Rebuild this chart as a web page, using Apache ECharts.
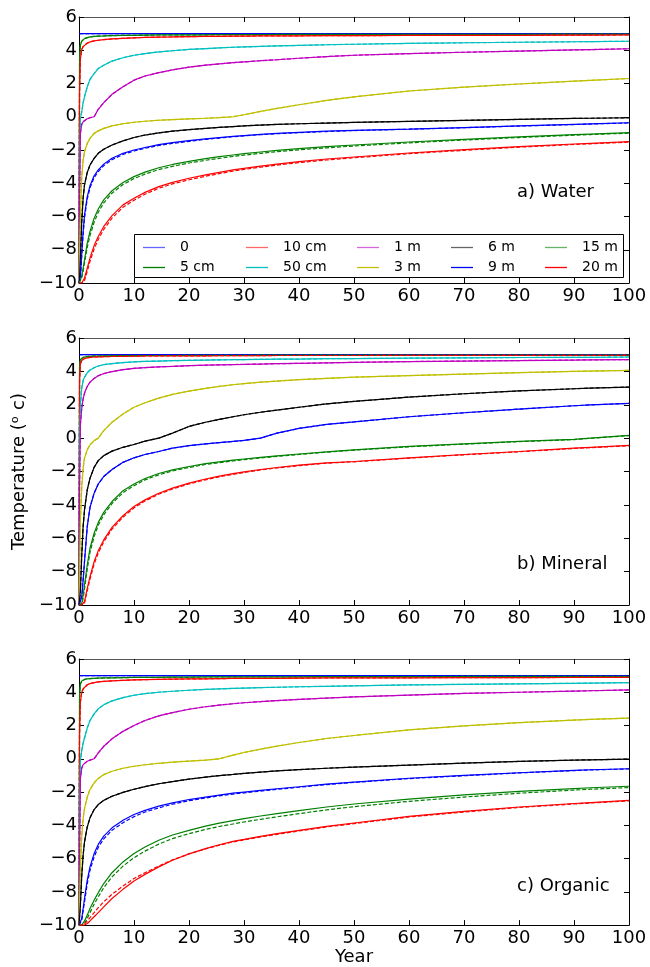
<!DOCTYPE html>
<html>
<head>
<meta charset="utf-8">
<script src="https://cdn.jsdelivr.net/npm/echarts@6/dist/echarts.min.js"></script>
<style>
  html, body { margin: 0; padding: 0; background: #ffffff; }
  #chart { width: 650px; height: 967px; }
</style>
</head>
<body>
<div id="chart"></div>
<script>
// Sample times (years) shared by every temperature profile
const YEARS = [0, 0.1, 0.25, 0.5, 0.75, 1, 1.5, 2, 2.75, 3.5, 4.5, 6, 8, 10, 12, 14.5, 17, 20, 23, 25.5, 28, 30, 33, 36, 40, 45, 50, 60, 70, 80, 90, 93, 100];

const DEPTHS = ['0', '5 cm', '10 cm', '50 cm', '1 m', '3 m', '6 m', '9 m', '15 m', '20 m'];
const COLORS = ['#0000ff', '#008000', '#ff0000', '#00bfbf', '#bf00bf', '#bfbf00', '#000000', '#0000ff', '#008000', '#ff0000'];

const X_TICKS = [0, 10, 20, 30, 40, 50, 60, 70, 80, 90, 100];
const Y_TICKS = [-10, -8, -6, -4, -2, 0, 2, 4, 6];

const PANEL_TITLES = ['a) Water', 'b) Mineral', 'c) Organic'];

// ---- a) Water ----
const water0    = [5, 5, 5, 5, 5, 5, 5, 5, 5, 5, 5, 5, 5, 5, 5, 5, 5, 5, 5, 5, 5, 5, 5, 5, 5, 5, 5, 5, 5, 5, 5, 5, 5];
const water5cm  = [-10, 3.5, 4.3, 4.55, 4.65, 4.7, 4.76, 4.8, 4.83, 4.85, 4.86, 4.88, 4.89, 4.9, 4.91, 4.92, 4.92, 4.93, 4.93, 4.94, 4.94, 4.94, 4.94, 4.95, 4.95, 4.95, 4.95, 4.96, 4.96, 4.96, 4.97, 4.97, 4.97];
const water10cm = [-10, 1.5, 3.5, 4.05, 4.22, 4.32, 4.43, 4.5, 4.56, 4.6, 4.64, 4.68, 4.72, 4.75, 4.77, 4.79, 4.8, 4.82, 4.83, 4.84, 4.85, 4.85, 4.86, 4.86, 4.87, 4.88, 4.88, 4.89, 4.9, 4.9, 4.91, 4.91, 4.92];
const water50cm = [-10, -3, -0.1, 0.3, 0.85, 1.2, 1.8, 2.25, 2.6, 2.9, 3.1, 3.35, 3.55, 3.7, 3.8, 3.9, 3.97, 4.05, 4.1, 4.14, 4.18, 4.2, 4.23, 4.26, 4.29, 4.33, 4.36, 4.41, 4.45, 4.48, 4.51, 4.52, 4.54];
const water1m   = [-10, -5, -1.0, -0.45, -0.3, -0.2, -0.12, -0.06, 0.0, 0.45, 0.85, 1.35, 1.8, 2.2, 2.45, 2.65, 2.82, 2.98, 3.1, 3.18, 3.25, 3.3, 3.37, 3.43, 3.52, 3.62, 3.7, 3.8, 3.88, 3.95, 4.02, 4.04, 4.09];
const water3m   = [-10, -8, -6, -3.6, -2.6, -2.1, -1.6, -1.3, -1.0, -0.85, -0.7, -0.55, -0.42, -0.33, -0.27, -0.21, -0.17, -0.13, -0.09, -0.05, 0.0, 0.12, 0.32, 0.5, 0.72, 0.98, 1.2, 1.55, 1.78, 1.97, 2.14, 2.19, 2.3];
const water6m   = [-10, -9.8, -8.5, -6.3, -4.9, -4.1, -3.35, -2.9, -2.5, -2.2, -1.95, -1.7, -1.45, -1.25, -1.1, -0.97, -0.87, -0.78, -0.7, -0.64, -0.59, -0.55, -0.5, -0.46, -0.42, -0.38, -0.34, -0.28, -0.22, -0.16, -0.1, -0.09, -0.06];
const water9m   = [-10, -10, -9.6, -8.2, -6.9, -5.9, -4.8, -4.15, -3.55, -3.2, -2.85, -2.5, -2.2, -2.0, -1.85, -1.68, -1.56, -1.44, -1.33, -1.25, -1.18, -1.13, -1.06, -1.0, -0.94, -0.87, -0.82, -0.74, -0.65, -0.55, -0.46, -0.43, -0.36];
const water15m  = [-10, -10, -10, -9.6, -9.1, -8.6, -7.6, -6.9, -6.1, -5.55, -5.0, -4.45, -3.95, -3.6, -3.33, -3.07, -2.87, -2.68, -2.52, -2.4, -2.3, -2.22, -2.12, -2.02, -1.92, -1.8, -1.7, -1.52, -1.36, -1.21, -1.08, -1.04, -0.96];
const water20m  = [-10, -10, -10, -10, -9.9, -9.7, -9.1, -8.5, -7.75, -7.2, -6.6, -5.95, -5.3, -4.9, -4.55, -4.2, -3.95, -3.7, -3.5, -3.35, -3.2, -3.1, -2.97, -2.85, -2.7, -2.54, -2.42, -2.18, -1.98, -1.8, -1.64, -1.6, -1.5];
// analytic solution where it departs from the model
const water9mRef  = [-10, -10, -9.7, -8.4, -7.1, -6.1, -4.95, -4.28, -3.66, -3.3, -2.94, -2.58, -2.27, -2.06, -1.9, -1.73, -1.6, -1.48, -1.36, -1.28, -1.2, -1.15, -1.08, -1.02, -0.96, -0.89, -0.83, -0.75, -0.66, -0.56, -0.47, -0.44, -0.37];
const water15mRef = [-10, -10, -10, -9.7, -9.3, -8.8, -7.85, -7.15, -6.35, -5.75, -5.18, -4.6, -4.08, -3.72, -3.45, -3.18, -2.98, -2.78, -2.62, -2.5, -2.39, -2.31, -2.2, -2.1, -1.99, -1.87, -1.76, -1.57, -1.4, -1.25, -1.11, -1.07, -0.99];
const water20mRef = [-10, -10, -10, -10, -10, -9.85, -9.3, -8.7, -7.95, -7.38, -6.78, -6.1, -5.44, -5.02, -4.66, -4.3, -4.04, -3.79, -3.58, -3.42, -3.27, -3.17, -3.03, -2.91, -2.76, -2.6, -2.47, -2.22, -2.02, -1.83, -1.67, -1.63, -1.53];

// ---- b) Mineral ----
const mineral0    = [5, 5, 5, 5, 5, 5, 5, 5, 5, 5, 5, 5, 5, 5, 5, 5, 5, 5, 5, 5, 5, 5, 5, 5, 5, 5, 5, 5, 5, 5, 5, 5, 5];
const mineral5cm  = [-10, 4.3, 4.7, 4.8, 4.84, 4.86, 4.88, 4.9, 4.91, 4.92, 4.93, 4.93, 4.94, 4.94, 4.95, 4.95, 4.95, 4.96, 4.96, 4.96, 4.96, 4.96, 4.97, 4.97, 4.97, 4.97, 4.97, 4.98, 4.98, 4.98, 4.98, 4.98, 4.98];
const mineral10cm = [-10, 3.5, 4.45, 4.65, 4.73, 4.77, 4.81, 4.84, 4.86, 4.87, 4.88, 4.89, 4.9, 4.91, 4.92, 4.92, 4.93, 4.93, 4.93, 4.94, 4.94, 4.94, 4.94, 4.95, 4.95, 4.95, 4.95, 4.96, 4.96, 4.96, 4.96, 4.96, 4.97];
const mineral50cm = [-10, 0.0, 2.0, 3.0, 3.45, 3.65, 3.92, 4.08, 4.22, 4.32, 4.4, 4.47, 4.53, 4.57, 4.6, 4.62, 4.64, 4.66, 4.68, 4.69, 4.7, 4.71, 4.72, 4.73, 4.74, 4.76, 4.77, 4.79, 4.81, 4.83, 4.84, 4.84, 4.86];
const mineral1m   = [-10, -3, 0.8, 1.8, 2.35, 2.7, 3.1, 3.35, 3.58, 3.74, 3.87, 3.99, 4.1, 4.18, 4.23, 4.27, 4.3, 4.34, 4.37, 4.39, 4.41, 4.42, 4.44, 4.46, 4.48, 4.51, 4.54, 4.59, 4.62, 4.65, 4.68, 4.69, 4.71];
const mineral3m   = [-10, -8, -5.0, -2.9, -1.8, -1.2, -0.7, -0.4, -0.15, 0.0, 0.45, 0.95, 1.45, 1.85, 2.12, 2.4, 2.62, 2.82, 2.98, 3.1, 3.2, 3.27, 3.35, 3.42, 3.5, 3.58, 3.65, 3.75, 3.84, 3.92, 4.0, 4.02, 4.06];
const mineral6m   = [-10, -10, -9.2, -7.0, -5.3, -4.3, -3.1, -2.4, -1.75, -1.35, -1.05, -0.78, -0.55, -0.38, -0.18, 0.0, 0.3, 0.7, 0.95, 1.12, 1.28, 1.4, 1.55, 1.68, 1.85, 2.05, 2.2, 2.46, 2.66, 2.83, 2.96, 3.0, 3.06];
const mineral9m   = [-10, -10, -10, -9.5, -8.5, -7.4, -5.3, -4.15, -3.3, -2.75, -2.3, -1.88, -1.45, -1.18, -0.98, -0.8, -0.6, -0.45, -0.35, -0.27, -0.2, -0.14, 0.0, 0.3, 0.58, 0.82, 0.97, 1.28, 1.52, 1.74, 1.94, 1.99, 2.08];
const mineral15m  = [-10, -10, -10, -9.9, -9.4, -8.8, -7.6, -6.6, -5.7, -5.05, -4.45, -3.8, -3.15, -2.75, -2.42, -2.12, -1.9, -1.7, -1.53, -1.42, -1.32, -1.25, -1.15, -1.06, -0.95, -0.82, -0.7, -0.5, -0.34, -0.2, -0.07, 0.0, 0.16];
const mineral20m  = [-10, -10, -10, -10, -10, -9.8, -9.0, -8.3, -7.4, -6.75, -6.1, -5.35, -4.65, -4.1, -3.7, -3.3, -3.0, -2.7, -2.45, -2.28, -2.13, -2.02, -1.88, -1.76, -1.62, -1.48, -1.4, -1.18, -0.98, -0.8, -0.6, -0.55, -0.44];
const mineral15mRef = [-10, -10, -10, -10, -9.6, -9.05, -7.85, -6.85, -5.9, -5.22, -4.6, -3.92, -3.27, -2.85, -2.5, -2.2, -1.97, -1.76, -1.58, -1.47, -1.37, -1.29, -1.19, -1.09, -0.98, -0.84, -0.72, -0.52, -0.36, -0.21, -0.09, -0.01, 0.15];
const mineral20mRef = [-10, -10, -10, -10, -10, -9.9, -9.15, -8.45, -7.55, -6.88, -6.22, -5.45, -4.74, -4.18, -3.77, -3.36, -3.05, -2.75, -2.5, -2.32, -2.17, -2.06, -1.91, -1.79, -1.65, -1.5, -1.42, -1.2, -1.0, -0.82, -0.62, -0.57, -0.46];

// ---- c) Organic ----
const organic0    = [5, 5, 5, 5, 5, 5, 5, 5, 5, 5, 5, 5, 5, 5, 5, 5, 5, 5, 5, 5, 5, 5, 5, 5, 5, 5, 5, 5, 5, 5, 5, 5, 5];
const organic5cm  = [-10, 3.8, 4.5, 4.68, 4.74, 4.77, 4.8, 4.82, 4.84, 4.85, 4.86, 4.87, 4.88, 4.89, 4.9, 4.9, 4.91, 4.91, 4.92, 4.92, 4.92, 4.93, 4.93, 4.93, 4.93, 4.94, 4.94, 4.94, 4.95, 4.95, 4.95, 4.95, 4.96];
const organic10cm = [-10, 1.5, 3.4, 4.0, 4.2, 4.3, 4.45, 4.52, 4.58, 4.62, 4.65, 4.69, 4.72, 4.74, 4.76, 4.78, 4.79, 4.8, 4.81, 4.82, 4.83, 4.83, 4.84, 4.84, 4.85, 4.86, 4.86, 4.87, 4.88, 4.88, 4.89, 4.89, 4.9];
const organic50cm = [-10, -3, -0.1, 0.5, 0.95, 1.25, 1.85, 2.3, 2.7, 3.0, 3.25, 3.48, 3.68, 3.82, 3.92, 4.0, 4.06, 4.12, 4.17, 4.2, 4.23, 4.25, 4.28, 4.3, 4.33, 4.36, 4.39, 4.44, 4.48, 4.51, 4.54, 4.55, 4.58];
const organic1m   = [-10, -6, -1.2, -0.55, -0.35, -0.25, -0.15, -0.08, 0.0, 0.35, 0.75, 1.2, 1.65, 2.0, 2.3, 2.58, 2.78, 2.98, 3.13, 3.23, 3.31, 3.37, 3.44, 3.5, 3.57, 3.65, 3.72, 3.83, 3.93, 4.0, 4.07, 4.09, 4.14];
const organic3m   = [-10, -8.5, -6.5, -4.6, -3.6, -3.0, -2.3, -1.85, -1.45, -1.18, -0.95, -0.75, -0.57, -0.45, -0.36, -0.27, -0.2, -0.14, -0.08, 0.0, 0.22, 0.38, 0.58, 0.76, 0.98, 1.22, 1.4, 1.74, 1.98, 2.17, 2.33, 2.37, 2.45];
const organic6m   = [-10, -10, -8.8, -7.0, -5.8, -5.0, -4.1, -3.55, -3.05, -2.75, -2.5, -2.25, -2.02, -1.83, -1.67, -1.5, -1.37, -1.22, -1.1, -1.01, -0.94, -0.88, -0.8, -0.73, -0.65, -0.57, -0.5, -0.38, -0.26, -0.16, -0.08, -0.06, -0.02];
const organic9m   = [-10, -10, -10, -9.6, -9.0, -8.4, -7.3, -6.5, -5.7, -5.15, -4.65, -4.15, -3.7, -3.35, -3.1, -2.85, -2.65, -2.45, -2.3, -2.18, -2.07, -2.0, -1.9, -1.8, -1.68, -1.52, -1.4, -1.17, -1.0, -0.84, -0.7, -0.66, -0.6];
const organic15m  = [-10, -10, -10, -10, -9.9, -9.75, -9.4, -9.0, -8.5, -8.05, -7.5, -6.85, -6.2, -5.7, -5.3, -4.9, -4.58, -4.3, -4.05, -3.87, -3.72, -3.6, -3.44, -3.3, -3.12, -2.9, -2.72, -2.42, -2.17, -1.96, -1.79, -1.74, -1.65];
const organic20m  = [-10, -10, -10, -10, -10, -10, -9.9, -9.75, -9.5, -9.25, -8.9, -8.4, -7.85, -7.35, -6.95, -6.5, -6.1, -5.72, -5.4, -5.17, -4.97, -4.85, -4.66, -4.5, -4.3, -4.06, -3.86, -3.46, -3.16, -2.9, -2.69, -2.63, -2.5];
const organic9mRef  = [-10, -10, -10, -9.7, -9.15, -8.6, -7.5, -6.7, -5.9, -5.33, -4.82, -4.3, -3.84, -3.48, -3.2, -2.95, -2.73, -2.52, -2.36, -2.23, -2.12, -2.05, -1.94, -1.84, -1.71, -1.55, -1.42, -1.19, -1.02, -0.85, -0.71, -0.67, -0.61];
const organic15mRef = [-10, -10, -10, -10, -10, -9.9, -9.6, -9.25, -8.75, -8.3, -7.75, -7.1, -6.45, -5.95, -5.55, -5.13, -4.8, -4.5, -4.25, -4.07, -3.92, -3.8, -3.64, -3.49, -3.3, -3.07, -2.88, -2.56, -2.3, -2.07, -1.88, -1.83, -1.73];
const organic20mRef = [-10, -10, -10, -10, -10, -9.95, -9.75, -9.55, -9.25, -8.95, -8.6, -8.15, -7.65, -7.2, -6.85, -6.45, -6.08, -5.72, -5.42, -5.2, -5.0, -4.88, -4.7, -4.54, -4.34, -4.1, -3.9, -3.5, -3.2, -2.93, -2.72, -2.66, -2.53];

// model curves (solid) and analytic curves (dashed) for each panel
const PANELS = [
  {
    model: [water0, water5cm, water10cm, water50cm, water1m, water3m, water6m, water9m, water15m, water20m],
    analytic: [water0, water5cm, water10cm, water50cm, water1m, water3m, water6m, water9mRef, water15mRef, water20mRef]
  },
  {
    model: [mineral0, mineral5cm, mineral10cm, mineral50cm, mineral1m, mineral3m, mineral6m, mineral9m, mineral15m, mineral20m],
    analytic: [mineral0, mineral5cm, mineral10cm, mineral50cm, mineral1m, mineral3m, mineral6m, mineral9m, mineral15mRef, mineral20mRef]
  },
  {
    model: [organic0, organic5cm, organic10cm, organic50cm, organic1m, organic3m, organic6m, organic9m, organic15m, organic20m],
    analytic: [organic0, organic5cm, organic10cm, organic50cm, organic1m, organic3m, organic6m, organic9mRef, organic15mRef, organic20mRef]
  }
];

const FONT = 'DejaVu Sans';
const GRID_BOXES = [
  { top: 17, height: 266 },
  { top: 338, height: 267 },
  { top: 659, height: 267 }
];
const PLOT_LEFT = 79, PLOT_WIDTH = 550;

const minus = v => (v < 0 ? '\u2212' + Math.abs(v) : String(v));

const grids = [], xAxes = [], yAxes = [], series = [];

GRID_BOXES.forEach((g, p) => {
  grids.push({ left: PLOT_LEFT, width: PLOT_WIDTH, top: g.top, height: g.height, containLabel: false });

  const tickBase = { show: true, inside: true, length: 5, lineStyle: { color: '#000', width: 1 } };
  // bottom axis with labels
  xAxes.push({
    type: 'value', gridIndex: p, position: 'bottom',
    min: X_TICKS[0], max: X_TICKS[X_TICKS.length - 1], interval: 10,
    axisLine: { show: true, onZero: false, lineStyle: { color: '#000', width: 1 } },
    axisTick: tickBase,
    axisLabel: { show: true, margin: 4, color: '#000', fontFamily: FONT, fontSize: 18, formatter: minus },
    splitLine: { show: false },
    name: p === 2 ? 'Year' : '',
    nameLocation: 'middle', nameGap: 22,
    nameTextStyle: { color: '#000', fontFamily: FONT, fontSize: 18 }
  });
  // top frame
  xAxes.push({
    type: 'value', gridIndex: p, position: 'top',
    min: X_TICKS[0], max: X_TICKS[X_TICKS.length - 1], interval: 10,
    axisLine: { show: true, onZero: false, lineStyle: { color: '#555', width: 1 } },
    axisTick: tickBase, axisLabel: { show: false }, splitLine: { show: false }
  });
  // left axis with labels
  yAxes.push({
    type: 'value', gridIndex: p, position: 'left',
    min: Y_TICKS[0], max: Y_TICKS[Y_TICKS.length - 1], interval: 2,
    axisLine: { show: true, onZero: false, lineStyle: { color: '#000', width: 1 } },
    axisTick: tickBase,
    axisLabel: { show: true, margin: 2, color: '#000', fontFamily: FONT, fontSize: 18, formatter: minus },
    splitLine: { show: false },
    name: p === 1 ? 'Temperature (\u1d52 c)' : '',
    nameLocation: 'middle', nameGap: 48, nameRotate: 90,
    nameTextStyle: { color: '#000', fontFamily: FONT, fontSize: 18 }
  });
  // right frame
  yAxes.push({
    type: 'value', gridIndex: p, position: 'right',
    min: Y_TICKS[0], max: Y_TICKS[Y_TICKS.length - 1], interval: 2,
    axisLine: { show: true, onZero: false, lineStyle: { color: '#000', width: 1 } },
    axisTick: tickBase, axisLabel: { show: false }, splitLine: { show: false }
  });

  const panel = PANELS[p];
  DEPTHS.forEach((name, i) => {
    series.push({
      type: 'line', name: name,
      xAxisIndex: p * 2, yAxisIndex: p * 2,
      data: YEARS.map((t, k) => [t, panel.model[i][k]]),
      symbol: 'none', showSymbol: false, smooth: false,
      lineStyle: { color: COLORS[i], width: 1.2 },
      itemStyle: { color: COLORS[i] },
      z: 2, silent: true
    });
  });
  DEPTHS.forEach((name, i) => {
    series.push({
      type: 'line', name: 'analytic ' + name,
      xAxisIndex: p * 2, yAxisIndex: p * 2,
      data: YEARS.map((t, k) => [t, panel.analytic[i][k]]),
      symbol: 'none', showSymbol: false, smooth: false,
      lineStyle: { color: COLORS[i], width: 1.2, type: [4, 2] },
      itemStyle: { color: COLORS[i] },
      z: 3, silent: true
    });
  });
});

// legend: five columns of two entries, filled column by column
const LEGEND_COLUMNS = [[0, 1], [2, 3], [4, 5], [6, 7], [8, 9]];
const LEGEND_LEFT = [143, 246, 357, 451, 545];
const legends = LEGEND_COLUMNS.map((col, c) => ({
  show: true,
  orient: 'vertical',
  left: LEGEND_LEFT[c], top: 239,
  padding: 0,
  icon: 'rect',
  itemWidth: 22, itemHeight: 1.3, itemGap: 3,
  selectedMode: false,
  z: 20,
  textStyle: { color: '#000', fontFamily: FONT, fontSize: 14, padding: [0, 0, 0, 10], lineHeight: 17 },
  data: col.map((i, r) => ({ name: DEPTHS[i], itemStyle: { color: COLORS[i], opacity: r === 0 ? 0.6 : 1 } }))
}));

const graphics = [
  {
    type: 'rect', z: 10,
    shape: { x: 134.5, y: 234.5, width: 489, height: 43 },
    style: { fill: '#fff', stroke: '#000', lineWidth: 1 }
  }
];
const TITLE_TOPS = [183, 555, 877];
PANEL_TITLES.forEach((t, p) => {
  graphics.push({
    type: 'text', z: 10, left: 517, top: TITLE_TOPS[p],
    style: { text: t, fill: '#000', font: '18px "DejaVu Sans"' }
  });
});

const chart = echarts.init(document.getElementById('chart'), null, { renderer: 'canvas' });
chart.setOption({
  animation: false,
  backgroundColor: '#ffffff',
  grid: grids,
  xAxis: xAxes,
  yAxis: yAxes,
  legend: legends,
  graphic: graphics,
  series: series
});
</script>
</body>
</html>
